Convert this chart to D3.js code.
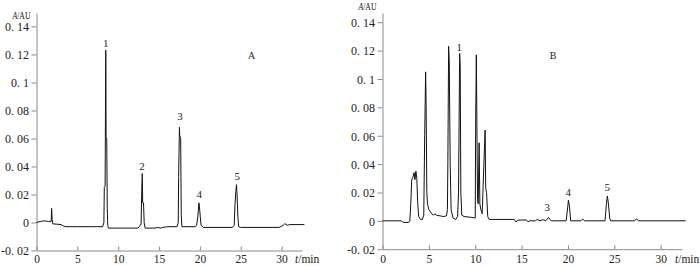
<!DOCTYPE html>
<html>
<head>
<meta charset="utf-8">
<script src="https://cdn.jsdelivr.net/npm/d3@7"></script>
<style>
  body { margin: 0; background: #fff; }
  svg text { font-family: "Liberation Serif", "DejaVu Serif", serif; fill: #222; }
</style>
</head>
<body>
<svg id="chart" width="700" height="266"></svg>
<script>
// chromatogram A (standard mix): retention time (min) and absorbance (AU)
const timeA = [0, 0.3, 0.6, 0.9, 1.2, 1.5, 1.8, 1.85, 1.92, 2.0, 2.5, 3.0, 3.3, 3.6, 5, 7, 8.1, 8.25, 8.3, 8.4, 8.48, 8.52, 8.6, 8.66, 8.72, 8.8,
  10, 12.4, 12.6, 12.8, 12.88, 12.95, 13.0, 13.1, 13.18, 13.3, 14.5, 14.8, 15.2, 15.5, 16, 17.2, 17.35, 17.4, 17.5, 17.53, 17.65, 17.72, 17.8,
  19.4, 19.6, 19.75, 19.88, 19.95, 20.05, 20.15, 20.4, 24, 24.2, 24.3, 24.4, 24.48, 24.55, 24.65, 24.75, 25, 29.7, 30.2, 30.4, 30.7, 31, 32.8];
const absA = [0, 0.0005, 0.0008, 0.0012, 0.0009, 0.0008, 0.0008, 0.010, 0.002, -0.001, -0.0012, -0.0015, -0.0025, -0.003, -0.003, -0.003, -0.003, 0.0, 0.025, 0.026, 0.123, 0.06, 0.06, 0.01, -0.002, -0.004,
  -0.004, -0.004, -0.003, -0.001, 0.022, 0.035, 0.014, 0.014, 0.0, -0.004, -0.004, -0.0035, -0.004, -0.0035, -0.003, -0.003, 0.0, 0.033, 0.068, 0.062, 0.06, 0.005, -0.003,
  -0.003, -0.002, 0.004, 0.014, 0.011, 0.004, -0.002, -0.0035, -0.0035, -0.002, 0.013, 0.022, 0.027, 0.02, 0.004, -0.003, -0.0035, -0.0035, -0.002, -0.0008, -0.002, -0.0015, -0.0015];

// chromatogram B (sample)
const timeB = [0, 2.05, 2.2, 2.8, 2.95, 3.05, 3.15, 3.3, 3.4, 3.5, 3.6, 3.7, 3.8, 3.9, 4.1, 4.3, 4.45, 4.55, 4.65, 4.7, 4.78, 4.85, 5.0, 5.3, 5.5, 5.65, 5.8, 6.2, 6.6, 6.9,
  7.0, 7.05, 7.13, 7.2, 7.3, 7.4, 7.6, 7.9, 8.1, 8.2, 8.32, 8.38, 8.45, 8.55, 8.8, 9.5, 10.0, 10.05, 10.12, 10.18, 10.25, 10.32, 10.42, 10.5, 10.6, 10.75,
  11.0, 11.07, 11.13, 11.22, 11.35, 11.5, 14.2, 14.4, 14.6, 15.5, 15.7, 15.9, 16.5, 16.7, 17.0, 17.3, 17.6, 17.9, 18.2, 19.8, 20.0, 20.05, 20.15, 20.3,
  21.4, 21.6, 21.8, 24.0, 24.15, 24.25, 24.35, 24.5, 24.6, 27.2, 27.4, 27.6, 32.7];
const absB = [0, 0, -0.001, -0.0012, 0.0, 0.012, 0.029, 0.031, 0.034, 0.029, 0.035, 0.03, 0.012, 0.003, 0.001, 0.001, 0.004, 0.06, 0.105, 0.085, 0.02, 0.012, 0.008, 0.005, 0.004, 0.005, 0.004, 0.0035, 0.003, 0.0035,
  0.008, 0.041, 0.123, 0.112, 0.04, 0.008, 0.002, 0.001, 0.003, 0.02, 0.118, 0.109, 0.02, 0.004, 0.003, 0.0025, 0.002, 0.072, 0.117, 0.068, 0.015, 0.012, 0.055, 0.012, 0.008, 0.005,
  0.052, 0.064, 0.023, 0.02, 0.003, 0.001, 0.001, -0.0008, 0.0005, 0.0006, -0.0006, 0.0, 0.0, 0.001, 0.0, 0.0008, 0.0, 0.0024, 0.0, 0.0, 0.011, 0.0146, 0.011, 0.0,
  0.0, 0.0012, 0.0, 0.0, 0.012, 0.0175, 0.013, 0.002, 0.0, 0.0, 0.0015, 0.0, 0.0];

// peak numbers, where they sit (time, absorbance of label baseline)
const peakNamesA = ["1", "2", "3", "4", "5"];
const peakTimeA = [8.47, 12.9, 17.56, 19.92, 24.57];
const peakLevelA = [0.125, 0.0375, 0.073, 0.0175, 0.0304];
const peakNamesB = ["1", "3", "4", "5"];
const peakTimeB = [8.28, 17.78, 20.04, 24.24];
const peakLevelB = [0.1199, 0.0072, 0.0177, 0.0213];

// ticks
const yTicks = [-0.02, 0, 0.02, 0.04, 0.06, 0.08, 0.1, 0.12, 0.14];
const yTickLabels = ["-0. 02", "0", "0. 02", "0. 04", "0. 06", "0. 08", "0. 1", "0. 12", "0. 14"];
const xTicks = [0, 5, 10, 15, 20, 25, 30];

const svg = d3.select("#chart");

const panels = [
  { name: "A", time: timeA, abs: absA, names: peakNamesA, pt: peakTimeA, pl: peakLevelA,
    x: d3.scaleLinear().domain([0, 32.5]).range([36.5, 302]),
    y: d3.scaleLinear().domain([-0.02, 0.1496]).range([250.5, 13]),
    unitY: 18.5, nameX: 251.5 },
  { name: "B", time: timeB, abs: absB, names: peakNamesB, pt: peakTimeB, pl: peakLevelB,
    x: d3.scaleLinear().domain([0, 32.3]).range([382.5, 682]),
    y: d3.scaleLinear().domain([-0.02, 0.1465]).range([249.2, 13]),
    unitY: 10, nameX: 553 }
];

panels.forEach(p => {
  const g = svg.append("g");
  const x0 = p.x.range()[0], x1 = p.x.range()[1], y0 = p.y.range()[0];

  // y axis
  const yAxis = g.append("g")
    .attr("transform", `translate(${x0},0)`)
    .call(d3.axisLeft(p.y).tickValues(yTicks).tickFormat((d, i) => yTickLabels[i]).tickSize(5).tickPadding(2.5).tickSizeOuter(0));

  // x axis, ticks point up
  const xAxis = g.append("g")
    .attr("transform", `translate(0,${y0})`)
    .call(d3.axisBottom(p.x).tickValues(xTicks).tickSize(-4).tickPadding(7).tickSizeOuter(0));

  [yAxis, xAxis].forEach(a => {
    a.selectAll("path, line").attr("stroke", "#8a8a8a").attr("stroke-width", 1);
    a.selectAll("text").style("font-size", "12px").attr("fill", "#222");
  });
  yAxis.selectAll("text").attr("dy", "0.36em");
  xAxis.selectAll("text").style("font-size", "11.5px").attr("y", 263.2 - y0).attr("dy", 0);

  // axis titles
  const ya = g.append("text").attr("x", x0 - 24).attr("y", p.unitY)
    .attr("textLength", 18).attr("lengthAdjust", "spacingAndGlyphs").style("font-size", "10px");
  ya.append("tspan").style("font-style", "italic").text("A");
  ya.append("tspan").text("/AU");

  const xa = g.append("text").attr("x", x1 - 7).attr("y", 263.2).style("font-size", "11.5px");
  xa.append("tspan").style("font-style", "italic").text("t");
  xa.append("tspan").text("/min");

  // trace
  const pts = p.time.map((t, i) => [t, p.abs[i]]);
  g.append("path")
    .datum(pts)
    .attr("fill", "none")
    .attr("stroke", "#111")
    .attr("stroke-width", 1)
    .attr("d", d3.line().x(d => p.x(d[0])).y(d => p.y(d[1])));

  // peak numbers
  g.selectAll(".peak")
    .data(p.names)
    .enter()
    .append("text")
    .attr("class", "peak")
    .attr("text-anchor", "middle")
    .attr("x", (d, i) => p.x(p.pt[i]))
    .attr("y", (d, i) => p.y(p.pl[i]))
    .style("font-size", "11px")
    .text(d => d);

  // panel letter
  g.append("text")
    .attr("x", p.nameX)
    .attr("y", 58.5)
    .attr("text-anchor", "middle")
    .style("font-size", "10px")
    .text(p.name);
});
</script>
</body>
</html>
